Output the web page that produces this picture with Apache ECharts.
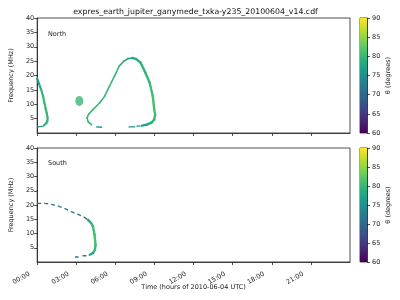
<!DOCTYPE html>
<html><head><meta charset="utf-8">
<script src="https://cdn.jsdelivr.net/npm/echarts@6/dist/echarts.min.js"></script>
<style>html,body{margin:0;padding:0;background:#fff}#c{width:400px;height:300px}</style>
</head><body><div id="c"></div>
<script>
// ---- tick labels ----
const timeTickValues = [0, 3, 6, 9, 12, 15, 18, 21];
const timeTickLabels = ['00:00', '03:00', '06:00', '09:00', '12:00', '15:00', '18:00', '21:00'];
const freqTicks = [5, 10, 15, 20, 25, 30, 35, 40];
const thetaTicks = [60, 65, 70, 75, 80, 85, 90];

// ---- North hemisphere: [time (h), frequency (MHz), theta (deg)] ----
const northLeftArc = [[0.0, 18.9, 76], [0.15, 17.0, 78], [0.3, 15.2, 79], [0.45, 12.8, 80], [0.55, 10.6, 80], [0.65, 8.5, 80], [0.73, 7.0, 80], [0.8, 5.3, 80], [0.78, 4.2, 80], [0.7, 3.4, 79], [0.55, 2.8, 78]];
const northLeftFoot = [[0.5, 2.4, 76], [0.05, 2.1, 75]];
const northBlob = [[3.23, 11.1, 80]];
const northArcRise = [[4.17, 2.9, 79], [3.92, 3.85, 80], [3.83, 5.25, 80], [3.95, 6.6, 80], [4.3, 8.2, 80], [4.8, 10.5, 80], [5.18, 12.8, 80], [5.55, 16.3, 80], [5.93, 19.8, 80], [6.3, 23.3, 79], [6.68, 25.1, 78], [7.0, 25.9, 77], [7.3, 26.1, 77]];
const northArcFall = [[7.3, 26.1, 77], [7.6, 25.7, 78], [7.93, 24.5, 79], [8.3, 21.0, 80], [8.63, 17.5, 80], [8.87, 12.8, 81], [8.98, 8.2, 81], [9.05, 6.4, 81], [8.98, 4.7, 80], [8.8, 3.7, 79], [8.42, 2.9, 78], [8.05, 2.55, 77]];
const northFootA = [[4.55, 2.1, 75], [4.95, 2.0, 75]];
const northFootB = [[7.05, 2.1, 75], [7.48, 2.1, 75]];
const northFootC = [[7.65, 2.4, 76], [7.9, 2.45, 76]];

// ---- South hemisphere ----
const southUpper = [[0.0, 20.6, 71], [0.6, 20.6, 71], [1.0, 20.3, 71], [1.5, 19.8, 71], [2.0, 19.0, 71], [2.6, 17.7, 72], [3.1, 16.8, 72], [3.6, 15.75, 73], [3.9, 14.8, 75]];
const southMain = [[3.9, 14.8, 77], [4.15, 13.6, 79], [4.28, 12.5, 80], [4.4, 9.55, 81], [4.48, 6.05, 81], [4.43, 4.3, 80], [4.28, 3.15, 79], [4.03, 2.55, 77]];
const southFoot = [[3.78, 2.2, 73], [3.53, 2.2, 73], [3.15, 1.75, 72], [2.9, 1.75, 72]];

// ---- viridis ----
const viridisStops = ['#440154', '#482475', '#414487', '#355f8d', '#2a788e', '#21918c', '#22a884', '#44bf70', '#7ad151', '#bddf26', '#fde725'];
function hex2rgb(h) { return [parseInt(h.slice(1, 3), 16), parseInt(h.slice(3, 5), 16), parseInt(h.slice(5, 7), 16)]; }
function viridis(theta) {
  let t = Math.max(0, Math.min(1, (theta - 60) / 30)) * 10;
  const i = Math.min(9, Math.floor(t)), f = t - i;
  const a = hex2rgb(viridisStops[i]), b = hex2rgb(viridisStops[i + 1]);
  return 'rgb(' + a.map((v, k) => Math.round(v + (b[k] - v) * f)).join(',') + ')';
}

const FONT = 'DejaVu Sans';
const series = [];
function solidCurve(pts, gi, width) {
  for (let i = 0; i < pts.length - 1; i++) {
    const p0 = pts[i], p1 = pts[i + 1];
    series.push({
      type: 'line', xAxisIndex: gi, yAxisIndex: gi, silent: true, showSymbol: false, animation: false,
      data: [[p0[0], p0[1]], [p1[0], p1[1]]],
      lineStyle: { color: viridis((p0[2] + p1[2]) / 2), width: width, cap: 'round' }
    });
  }
}
function dashedCurve(pts, gi, width, dash) {
  const th = pts.reduce((s, p) => s + p[2], 0) / pts.length;
  series.push({
    type: 'line', xAxisIndex: gi, yAxisIndex: gi, silent: true, showSymbol: false, animation: false,
    data: pts.map(p => [p[0], p[1]]),
    lineStyle: { color: viridis(th), width: width, type: dash }
  });
}

solidCurve(northLeftArc, 0, 2.2);
solidCurve(northLeftFoot, 0, 1.3);
solidCurve(northArcRise, 0, 1.6);
solidCurve(northArcFall, 0, 2.4);
solidCurve(northFootA, 0, 1.3);
solidCurve(northFootB, 0, 1.3);
solidCurve(northFootC, 0, 1.3);
series.push({
  type: 'scatter', xAxisIndex: 0, yAxisIndex: 0, silent: true, animation: false,
  symbol: 'circle', symbolSize: [8, 10],
  data: northBlob.map(p => [p[0], p[1]]),
  itemStyle: { color: viridis(northBlob[0][2]) }
});
dashedCurve(southUpper, 1, 1.3, [4, 3]);
solidCurve(southMain, 1, 2.4);
dashedCurve(southFoot, 1, 1.3, [4, 4]);

// colorbars
const cbGradient = () => new echarts.graphic.LinearGradient(0, 1, 0, 0,
  viridisStops.map((c, i) => ({ offset: i / 10, color: c })));
[2, 3].forEach(gi => series.push({
  type: 'bar', xAxisIndex: gi, yAxisIndex: gi, silent: true, animation: false,
  barWidth: '100%', data: [thetaTicks[thetaTicks.length - 1]],
  itemStyle: { color: cbGradient() }
}));

const axisLineStyle = { lineStyle: { color: '#222', width: 0.8 } };
const tickStyle = { length: 3, lineStyle: { color: '#222', width: 0.8 } };
const labelStyle = { fontFamily: FONT, fontSize: 6.5, color: '#222' };

function timeAxis(gi, showLabels) {
  return {
    type: 'value', gridIndex: gi, min: 0, max: 24,
    axisLine: axisLineStyle, splitLine: { show: false },
    axisTick: Object.assign({ customValues: timeTickValues }, tickStyle),
    axisLabel: Object.assign({
      show: showLabels, customValues: timeTickValues, rotate: 30, margin: 3,
      align: 'right', verticalAlign: 'top', padding: [0, 11, 0, 0],
      formatter: v => timeTickLabels[timeTickValues.indexOf(v)] || ''
    }, labelStyle),
    name: showLabels ? 'Time (hours of 2010-06-04 UTC)' : '',
    nameLocation: 'middle', nameGap: 22, nameMoveOverlap: false,
    nameTextStyle: { fontFamily: FONT, fontSize: 6.5, color: '#222' }
  };
}
function freqAxis(gi) {
  return {
    type: 'value', gridIndex: gi, min: 0, max: 40,
    axisLine: axisLineStyle, splitLine: { show: false },
    axisTick: Object.assign({ customValues: freqTicks }, tickStyle),
    axisLabel: Object.assign({ customValues: freqTicks, margin: 3 }, labelStyle),
    name: 'Frequency (MHz)', nameLocation: 'middle', nameGap: 15,
    nameTextStyle: { fontFamily: FONT, fontSize: 6.5, color: '#222' }
  };
}
function cbXAxis(gi) {
  return { type: 'category', gridIndex: gi, data: [''], show: false };
}
function cbYAxis(gi) {
  return {
    type: 'value', gridIndex: gi, position: 'right', min: 60, max: 90, interval: 5,
    axisLine: { show: true, lineStyle: { color: '#222', width: 0.8 } }, splitLine: { show: false },
    axisTick: { show: true, length: 3, lineStyle: { color: '#222', width: 0.8 } },
    axisLabel: Object.assign({ margin: 5 }, labelStyle),
    name: 'θ (degrees)', nameLocation: 'middle', nameRotate: 90, nameGap: 18,
    nameTextStyle: { fontFamily: FONT, fontSize: 6.5, color: '#222' }
  };
}

const chart = echarts.init(document.getElementById('c'), null, { renderer: 'canvas' });
chart.setOption({
  backgroundColor: '#fff',
  animation: false,
  title: [
    { text: 'expres_earth_jupiter_ganymede_txka-y235_20100604_v14.cdf', left: 190.5, textAlign: 'center', top: 3,
      textStyle: { fontFamily: FONT, fontSize: 7.8, fontWeight: 'normal', color: '#111' } },
    { text: 'North', left: 43, top: 26, textStyle: { fontFamily: FONT, fontSize: 6.5, fontWeight: 'normal', color: '#222' } },
    { text: 'South', left: 43, top: 155, textStyle: { fontFamily: FONT, fontSize: 6.5, fontWeight: 'normal', color: '#222' } }
  ],
  grid: [
    { left: 31, top: 18, width: 319, height: 115, show: true, borderColor: '#222', borderWidth: 0.8, containLabel: false },
    { left: 31, top: 148, width: 319, height: 114, show: true, borderColor: '#222', borderWidth: 0.8, containLabel: false },
    { left: 360, top: 18, width: 7, height: 115, show: true, borderColor: '#222', borderWidth: 0.8 },
    { left: 360, top: 148, width: 7, height: 114, show: true, borderColor: '#222', borderWidth: 0.8 }
  ],
  xAxis: [timeAxis(0, false), timeAxis(1, true), cbXAxis(2), cbXAxis(3)],
  yAxis: [freqAxis(0), freqAxis(1), cbYAxis(2), cbYAxis(3)],
  series: series
});
</script>
</body></html>
